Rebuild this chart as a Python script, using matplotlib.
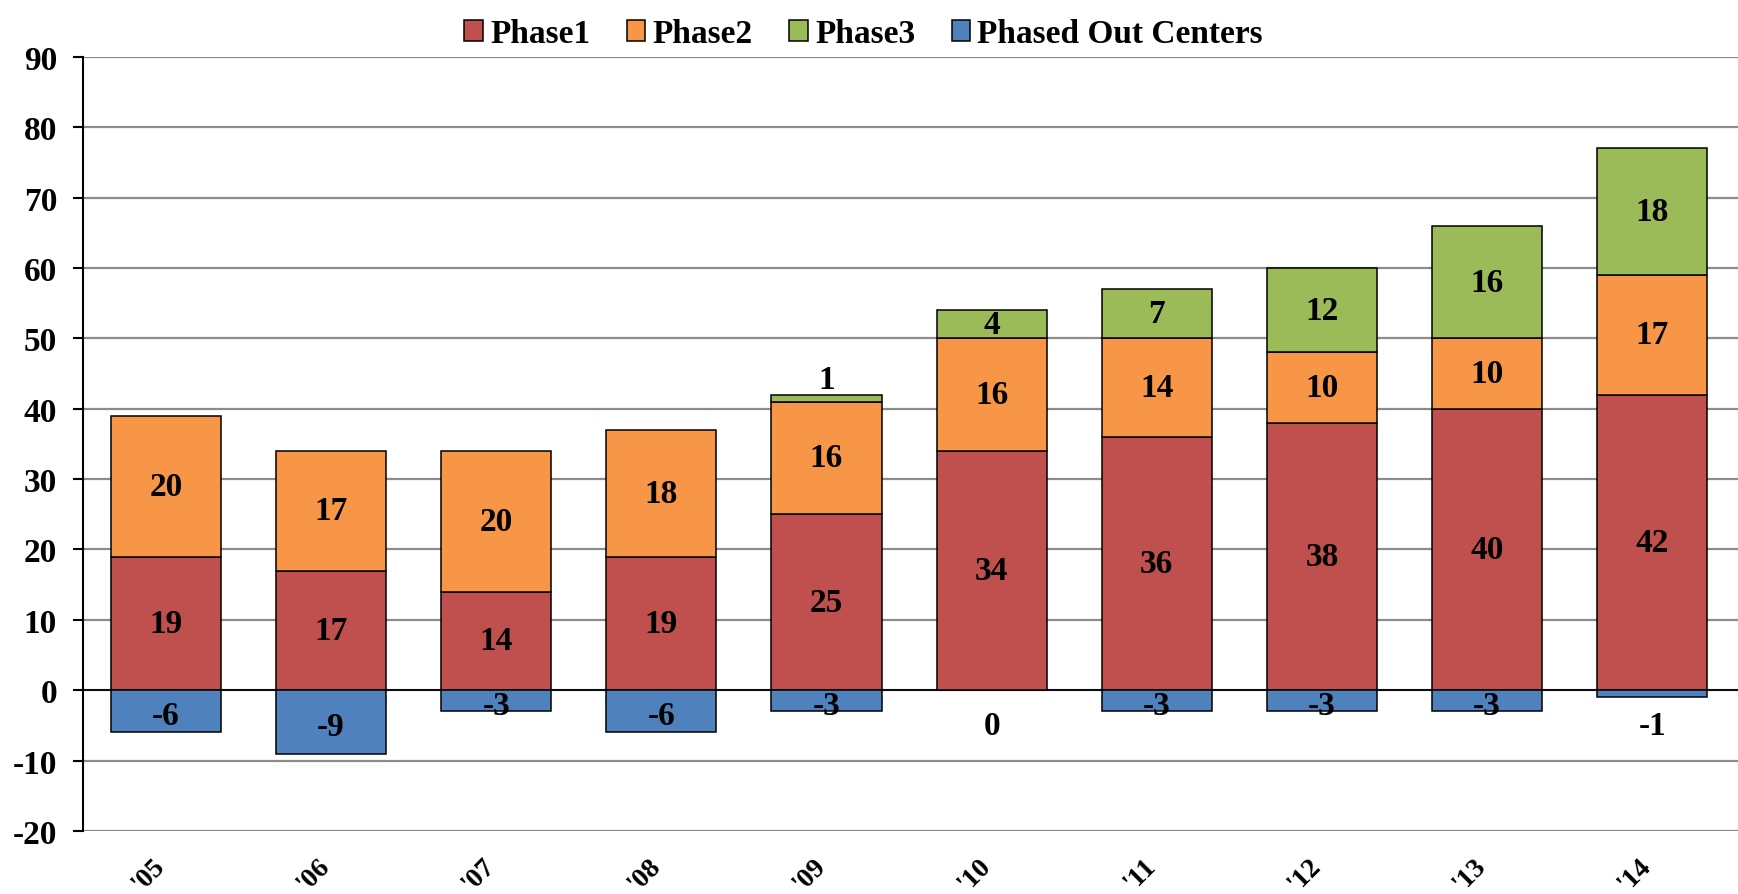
import matplotlib.pyplot as plt
import numpy as np

years = ["'05", "'06", "'07", "'08", "'09", "'10", "'11", "'12", "'13", "'14"]
phase1 = [19, 17, 14, 19, 25, 34, 36, 38, 40, 42]
phase2 = [20, 17, 20, 18, 16, 16, 14, 10, 10, 17]
phase3 = [0, 0, 0, 0, 1, 4, 7, 12, 16, 18]
phased_out = [-6, -9, -3, -6, -3, 0, -3, -3, -3, -1]

plt.rcParams['font.family'] = 'Liberation Serif'
plt.rcParams['font.weight'] = 'bold'

c1, c2, c3, c4 = '#C0504D', '#F79646', '#9BBB59', '#4F81BD'

fig = plt.figure(figsize=(17.38, 8.95), dpi=100)
ax = fig.add_axes([0.048, 0.0704, 0.952, 0.865])

x = np.arange(len(years))
w = 0.667
kw = dict(width=w, edgecolor='black', linewidth=1.1, zorder=3)
p1 = np.array(phase1)
p2 = np.array(phase2)
p3 = np.array(phase3)
po = np.array(phased_out)

b1 = ax.bar(x, p1, color=c1, label='Phase1', **kw)
b2 = ax.bar(x, p2, bottom=p1, color=c2, label='Phase2', **kw)
has3 = p3 > 0
b3 = ax.bar(x[has3], p3[has3], bottom=(p1 + p2)[has3], color=c3, label='Phase3', **kw)
has_out = po < 0
b4 = ax.bar(x[has_out], po[has_out], color=c4, label='Phased Out Centers', **kw)

fs = 24
for i in range(len(years)):
    ax.text(x[i], p1[i] / 2, str(p1[i]), ha='center', va='center', fontsize=fs, zorder=4)
    ax.text(x[i], p1[i] + p2[i] / 2, str(p2[i]), ha='center', va='center', fontsize=fs, zorder=4)
    if p3[i] > 0:
        top = p1[i] + p2[i]
        ypos = top + p3[i] / 2 if p3[i] > 2 else top + p3[i] + 2.2
        ax.text(x[i], ypos, str(p3[i]), ha='center', va='center', fontsize=fs, zorder=4)
    ypos = po[i] / 2 - 0.6 if po[i] <= -3 else -5
    ax.text(x[i], ypos, str(po[i]), ha='center', va='center', fontsize=fs, zorder=4)

ax.set_xlim(-0.5, 9.52)
ax.set_ylim(-20, 90)
ax.set_yticks(range(-20, 91, 10))
ax.tick_params(axis='y', labelsize=fs, length=7, width=1.5, pad=12)
ax.set_yticklabels([str(v) for v in range(-20, 91, 10)], fontweight='bold')
ax.grid(axis='y', color='#8C8C8C', linewidth=1.6, zorder=0)
ax.axhline(0, color='black', linewidth=1.3, zorder=2)

# year labels tilted 45 degrees under each bar
ax.set_xticks(x)
ax.set_xticklabels(years, rotation=45, ha='right', va='baseline', rotation_mode='anchor',
                   fontsize=20, fontweight='bold')
ax.tick_params(axis='x', length=0, pad=25)

for s in ['top', 'right', 'bottom']:
    ax.spines[s].set_visible(False)
ax.spines['left'].set_linewidth(1.5)

fig.legend(handles=[b1, b2, b3, b4], loc='upper center', bbox_to_anchor=(0.497, 1.012),
           ncol=4, frameon=False, fontsize=fs, handlelength=0.55, handleheight=0.55,
           handletextpad=0.22, columnspacing=1.1)

fig.savefig('out.png', dpi=100)
